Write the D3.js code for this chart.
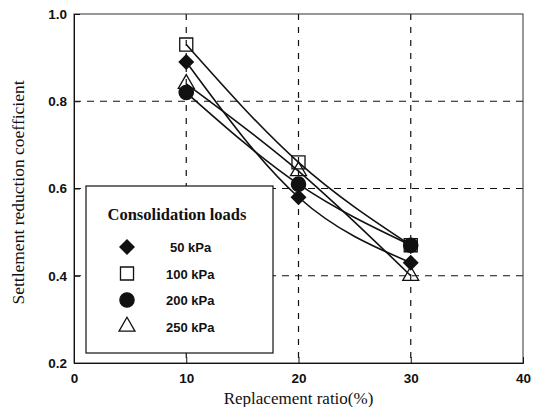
<!DOCTYPE html>
<html><head><meta charset="utf-8">
<script src="https://cdn.jsdelivr.net/npm/d3@7"></script>
<style>body{margin:0;background:#fff}</style>
</head><body>
<svg id="c" width="542" height="407"></svg>
<script>
const ratios = [10, 20, 30];
const seriesNames = ["50 kPa", "100 kPa", "200 kPa", "250 kPa"];
const v50  = [0.89, 0.58, 0.43];
const v100 = [0.93, 0.66, 0.47];
const v200 = [0.82, 0.61, 0.47];
const v250 = [0.84, 0.64, 0.40];
const symbolsOf = ["diamond", "square", "circle", "triangle"];
const xTicks = [0, 10, 20, 30, 40];
const yTicks = [0.2, 0.4, 0.6, 0.8, 1.0];
const gridX = [10, 20, 30];
const gridY = [0.4, 0.6, 0.8];

const series = [v50, v100, v200, v250].map((vals, i) => ({
  name: seriesNames[i], sym: symbolsOf[i],
  pts: vals.map((v, j) => ({x: ratios[j], y: v}))
}));

const svg = d3.select("#c");
const L = 74, R = 523, T = 14, B = 363;
const x = d3.scaleLinear().domain([0, 40]).range([L, R]);
const y = d3.scaleLinear().domain([0.2, 1.0]).range([B, T]);
const ink = "#111";

// grid
svg.append("g").selectAll("line").data(gridX).join("line")
  .attr("x1", d => x(d)).attr("x2", d => x(d)).attr("y1", T).attr("y2", B)
  .attr("stroke", ink).attr("stroke-width", 1.2).attr("stroke-dasharray", "6,7");
svg.append("g").selectAll("line").data(gridY).join("line")
  .attr("y1", d => y(d)).attr("y2", d => y(d)).attr("x1", L).attr("x2", R)
  .attr("stroke", ink).attr("stroke-width", 1.2).attr("stroke-dasharray", "7,6");

// frame
svg.append("rect").attr("x", L).attr("y", T).attr("width", R - L).attr("height", B - T)
  .attr("fill", "none").attr("stroke", "#333").attr("stroke-width", 1);

// axes (inward ticks)
const ax = svg.append("g").attr("transform", `translate(0,${B})`)
  .call(d3.axisBottom(x).tickValues(xTicks).tickSize(-6).tickPadding(10).tickFormat(d3.format("d")));
const ay = svg.append("g").attr("transform", `translate(${L},0)`)
  .call(d3.axisLeft(y).tickValues(yTicks).tickSize(-6).tickPadding(7).tickFormat(d3.format(".1f")));
[ax, ay].forEach(g => {
  g.select(".domain").attr("stroke", ink);
  g.selectAll(".tick line").attr("stroke", ink);
  g.selectAll("text").attr("font-family", "Liberation Sans, Arial, sans-serif")
    .attr("font-weight", "bold").attr("font-size", 13.5).attr("fill", ink);
});

// axis titles
svg.append("text").attr("x", (L + R) / 2).attr("y", 404).attr("text-anchor", "middle")
  .attr("font-family", "Liberation Serif, Times New Roman, serif").attr("font-size", 17).attr("fill", ink)
  .text("Replacement ratio(%)");
svg.append("text").attr("transform", `translate(24,${(T + B) / 2 + 4}) rotate(-90)`).attr("text-anchor", "middle")
  .attr("font-family", "Liberation Serif, Times New Roman, serif").attr("font-size", 17.5).attr("fill", ink)
  .text("Settlement reduction coefficient");

// curves
const line = d3.line().x(d => x(d.x)).y(d => y(d.y)).curve(d3.curveNatural);
svg.append("g").selectAll("path").data(series).join("path")
  .attr("d", d => line(d.pts)).attr("fill", "none").attr("stroke", ink).attr("stroke-width", 1.6);

// markers
const symType = {diamond: d3.symbolSquare, square: d3.symbolSquare, circle: d3.symbolCircle, triangle: d3.symbolTriangle};
const symSize = {diamond: 100, square: 170, circle: 160, triangle: 110};
const symRot = {diamond: 45, square: 0, circle: 0, triangle: 0};
const filled = {diamond: true, square: false, circle: true, triangle: false};
function drawSym(g, s, cx, cy) {
  g.append("path").attr("transform", `translate(${cx},${cy}) rotate(${symRot[s]})`)
    .attr("d", d3.symbol().type(symType[s]).size(symSize[s])())
    .attr("fill", filled[s] ? ink : "none").attr("stroke", ink).attr("stroke-width", 1.3);
}
const mg = svg.append("g");
series.forEach(sr => sr.pts.forEach(p => drawSym(mg, sr.sym, x(p.x), y(p.y))));

// legend
const lg = svg.append("g");
lg.append("rect").attr("x", 86).attr("y", 186).attr("width", 187).attr("height", 167)
  .attr("fill", "#fff").attr("stroke", ink).attr("stroke-width", 1.2);
lg.append("text").attr("x", 177).attr("y", 220).attr("text-anchor", "middle")
  .attr("font-family", "Liberation Serif, Times New Roman, serif").attr("font-weight", "bold")
  .attr("font-size", 16.5).attr("fill", ink).text("Consolidation loads");
series.forEach((sr, i) => {
  const cy = 247 + i * 26.5;
  drawSym(lg, sr.sym, 127, cy);
  lg.append("text").attr("x", sr.name.length < 7 ? 170 : 166).attr("y", cy + 5)
    .attr("font-family", "Liberation Sans, Arial, sans-serif").attr("font-weight", "bold")
    .attr("font-size", 13).attr("fill", ink).text(sr.name);
});
</script>
</body></html>
